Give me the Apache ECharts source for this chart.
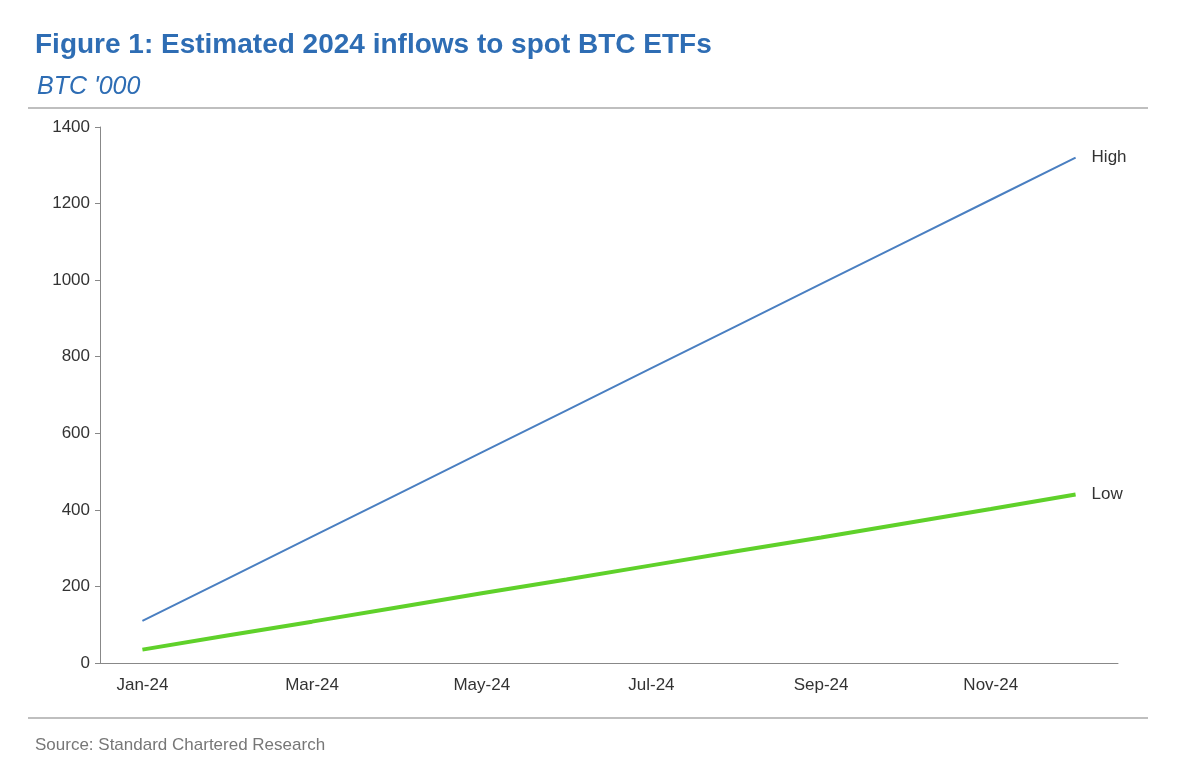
<!DOCTYPE html>
<html><head><meta charset="utf-8">
<script src="https://cdn.jsdelivr.net/npm/echarts@6/dist/echarts.min.js"></script>
<style>html,body{margin:0;padding:0;background:#fff}#main{width:1200px;height:766px}</style>
</head><body><div id="main"></div>
<script>
var months = ['Jan-24','Feb-24','Mar-24','Apr-24','May-24','Jun-24','Jul-24','Aug-24','Sep-24','Oct-24','Nov-24','Dec-24'];
var high = [110,220,330,440,550,660,770,880,990,1100,1210,1320];
var low = [35,72,108,145,182,218,255,292,328,365,402,440];
var yTicks = [0,200,400,600,800,1000,1200,1400];

var chart = echarts.init(document.getElementById('main'));
var font = 'Liberation Sans, Arial, sans-serif';
chart.setOption({
  animation: false,
  title: [{
    text: 'Figure 1: Estimated 2024 inflows to spot BTC ETFs',
    left: 30, top: 26,
    textStyle: {color: '#2e6db4', fontSize: 28, fontWeight: 'bold', fontFamily: font}
  }, {
    text: "BTC '000",
    left: 32, top: 70,
    textStyle: {color: '#2e6db4', fontSize: 25, fontStyle: 'italic', fontWeight: 'normal', fontFamily: font}
  }, {
    text: 'Source: Standard Chartered Research',
    left: 30, top: 732,
    textStyle: {color: '#777', fontSize: 17, fontWeight: 'normal', fontFamily: font}
  }],
  graphic: [
    {type: 'line', shape: {x1: 28, y1: 108, x2: 1148, y2: 108}, style: {stroke: '#aaa', lineWidth: 1.5}},
    {type: 'line', shape: {x1: 28, y1: 718, x2: 1148, y2: 718}, style: {stroke: '#aaa', lineWidth: 1.5}}
  ],
  grid: {left: 100, right: 82, top: 127, bottom: 103},
  xAxis: {
    type: 'category', data: months, boundaryGap: true,
    axisLine: {lineStyle: {color: '#888'}},
    axisTick: {interval: 1, length: 5, lineStyle: {color: '#888'}},
    axisLabel: {interval: 1, color: '#333', fontSize: 17, fontFamily: font, margin: 14}
  },
  yAxis: {
    type: 'value', min: yTicks[0], max: yTicks[yTicks.length - 1], interval: 200,
    axisLine: {show: true, lineStyle: {color: '#888'}},
    axisTick: {show: true, length: 5, lineStyle: {color: '#888'}},
    splitLine: {show: false},
    axisLabel: {color: '#333', fontSize: 17, fontFamily: font, margin: 10, formatter: function (v) { return String(v); }}
  },
  series: [{
    name: 'High', type: 'line', data: high, symbol: 'none',
    lineStyle: {color: '#4a7fc1', width: 2},
    endLabel: {show: true, formatter: 'High', color: '#333', fontSize: 17, fontFamily: font, offset: [8, 0]}
  }, {
    name: 'Low', type: 'line', data: low, symbol: 'none',
    lineStyle: {color: '#5fd12a', width: 4},
    endLabel: {show: true, formatter: 'Low', color: '#333', fontSize: 17, fontFamily: font, offset: [8, 0]}
  }]
});
</script></body></html>
